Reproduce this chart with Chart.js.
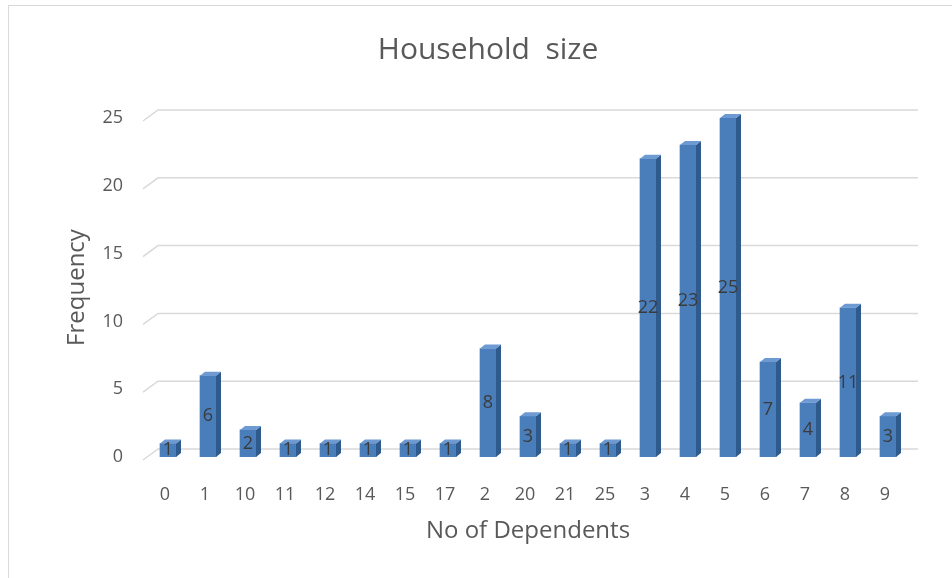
<!DOCTYPE html>
<html>
<head>
<meta charset="utf-8">
<script src="https://cdn.jsdelivr.net/npm/chart.js@4"></script>
<style>
  html, body { margin: 0; padding: 0; background: #fff; }
  #wrap { position: relative; width: 952px; height: 578px; overflow: hidden; }
  #frame { position: absolute; left: 8px; top: 5px; width: 1000px; height: 600px;
           border-top: 1px solid #d9d9d9; border-left: 1px solid #d9d9d9; }
  canvas { position: absolute; left: 0; top: 0; }
</style>
</head>
<body>
<div id="wrap">
  <div id="frame"></div>
  <canvas id="householdChart" width="952" height="578"></canvas>
</div>
<script>
const dependents = ['0', '1', '10', '11', '12', '14', '15', '17', '2', '20', '21', '25', '3', '4', '5', '6', '7', '8', '9'];
const frequency = [1, 6, 2, 1, 1, 1, 1, 1, 8, 3, 1, 1, 22, 23, 25, 7, 4, 11, 3];
const yTicks = [0, 5, 10, 15, 20, 25];

const FONT = "'Open Sans', sans-serif";
const TEXT = '#595959';
const DEPTH_X = 5, DEPTH_Y = 4;

// gridlines sit on the back wall, with a short slanted stub on the left
const backWall = {
    id: 'backWall',
    beforeDatasetsDraw(chart) {
        const { ctx, chartArea } = chart;
        const y = chart.scales.y;
        ctx.save();
        ctx.strokeStyle = '#d9d9d9';
        ctx.lineWidth = 1.5;
        yTicks.forEach(v => {
            const py = y.getPixelForValue(v);
            ctx.beginPath();
            ctx.moveTo(chartArea.left - 5, py + 3);
            ctx.lineTo(chartArea.left + 10, py - 8);
            ctx.lineTo(chartArea.right + 10, py - 8);
            ctx.stroke();
        });
        ctx.restore();
    }
};

// side + top faces for the column look, then the value labels
const columns3d = {
    id: 'columns3d',
    afterDatasetsDraw(chart) {
        const { ctx } = chart;
        const meta = chart.getDatasetMeta(0);
        ctx.save();
        meta.data.forEach(bar => {
            const { x, y, base, width } = bar.getProps(['x', 'y', 'base', 'width'], true);
            const l = x - width / 2, r = x + width / 2;
            ctx.fillStyle = '#2f5a8c';
            ctx.beginPath();
            ctx.moveTo(r, y);
            ctx.lineTo(r + DEPTH_X, y - DEPTH_Y);
            ctx.lineTo(r + DEPTH_X, base - DEPTH_Y);
            ctx.lineTo(r, base);
            ctx.closePath();
            ctx.fill();
            ctx.fillStyle = '#6d9ad2';
            ctx.beginPath();
            ctx.moveTo(l, y);
            ctx.lineTo(l + DEPTH_X, y - DEPTH_Y);
            ctx.lineTo(r + DEPTH_X, y - DEPTH_Y);
            ctx.lineTo(r, y);
            ctx.closePath();
            ctx.fill();
        });
        ctx.fillStyle = '#3a3a3a';
        ctx.font = '18px ' + FONT;
        ctx.textAlign = 'center';
        ctx.textBaseline = 'middle';
        meta.data.forEach((bar, i) => {
            const { x, y, base } = bar.getProps(['x', 'y', 'base'], true);
            ctx.fillText(String(frequency[i]), x, (y + base) / 2);
        });
        ctx.restore();
    }
};

const ctx = document.getElementById('householdChart').getContext('2d');
new Chart(ctx, {
    type: 'bar',
    data: {
        labels: dependents,
        datasets: [{
            label: 'Frequency',
            data: frequency,
            backgroundColor: '#4a7ebb',
            borderWidth: 0,
            barThickness: 16
        }]
    },
    options: {
        responsive: false,
        animation: false,
        devicePixelRatio: 1,
        layout: { padding: { left: 68, right: 44, top: 0, bottom: 0 } },
        scales: {
            x: {
                grid: { display: false, drawTicks: false },
                border: { display: false },
                ticks: {
                    color: TEXT,
                    font: { family: FONT, size: 18 },
                    padding: 27,
                    labelOffset: -3,
                    maxRotation: 0,
                    autoSkip: false
                },
                title: {
                    display: true,
                    text: 'No of Dependents',
                    color: TEXT,
                    font: { family: FONT, size: 24, lineHeight: 1.2 },
                    padding: { top: 0, bottom: 32 }
                },
                afterFit: s => { s.height = 121; }
            },
            y: {
                min: 0,
                max: 25,
                grid: { display: false, drawTicks: false },
                border: { display: false },
                ticks: {
                    stepSize: 5,
                    color: TEXT,
                    font: { family: FONT, size: 18 },
                    padding: 25
                },
                title: {
                    display: true,
                    text: 'Frequency',
                    color: TEXT,
                    font: { family: FONT, size: 24, lineHeight: 1.0 },
                    padding: { top: -3, bottom: 0 }
                },
                afterFit: s => { s.width = 80; }
            }
        },
        plugins: {
            legend: { display: false },
            tooltip: { enabled: false },
            title: {
                display: true,
                text: 'Household  size',
                color: TEXT,
                font: { family: FONT, size: 30, weight: 'normal', lineHeight: 1.2 },
                padding: { top: 32, bottom: 50 }
            }
        }
    },
    plugins: [backWall, columns3d]
});
</script>
</body>
</html>
